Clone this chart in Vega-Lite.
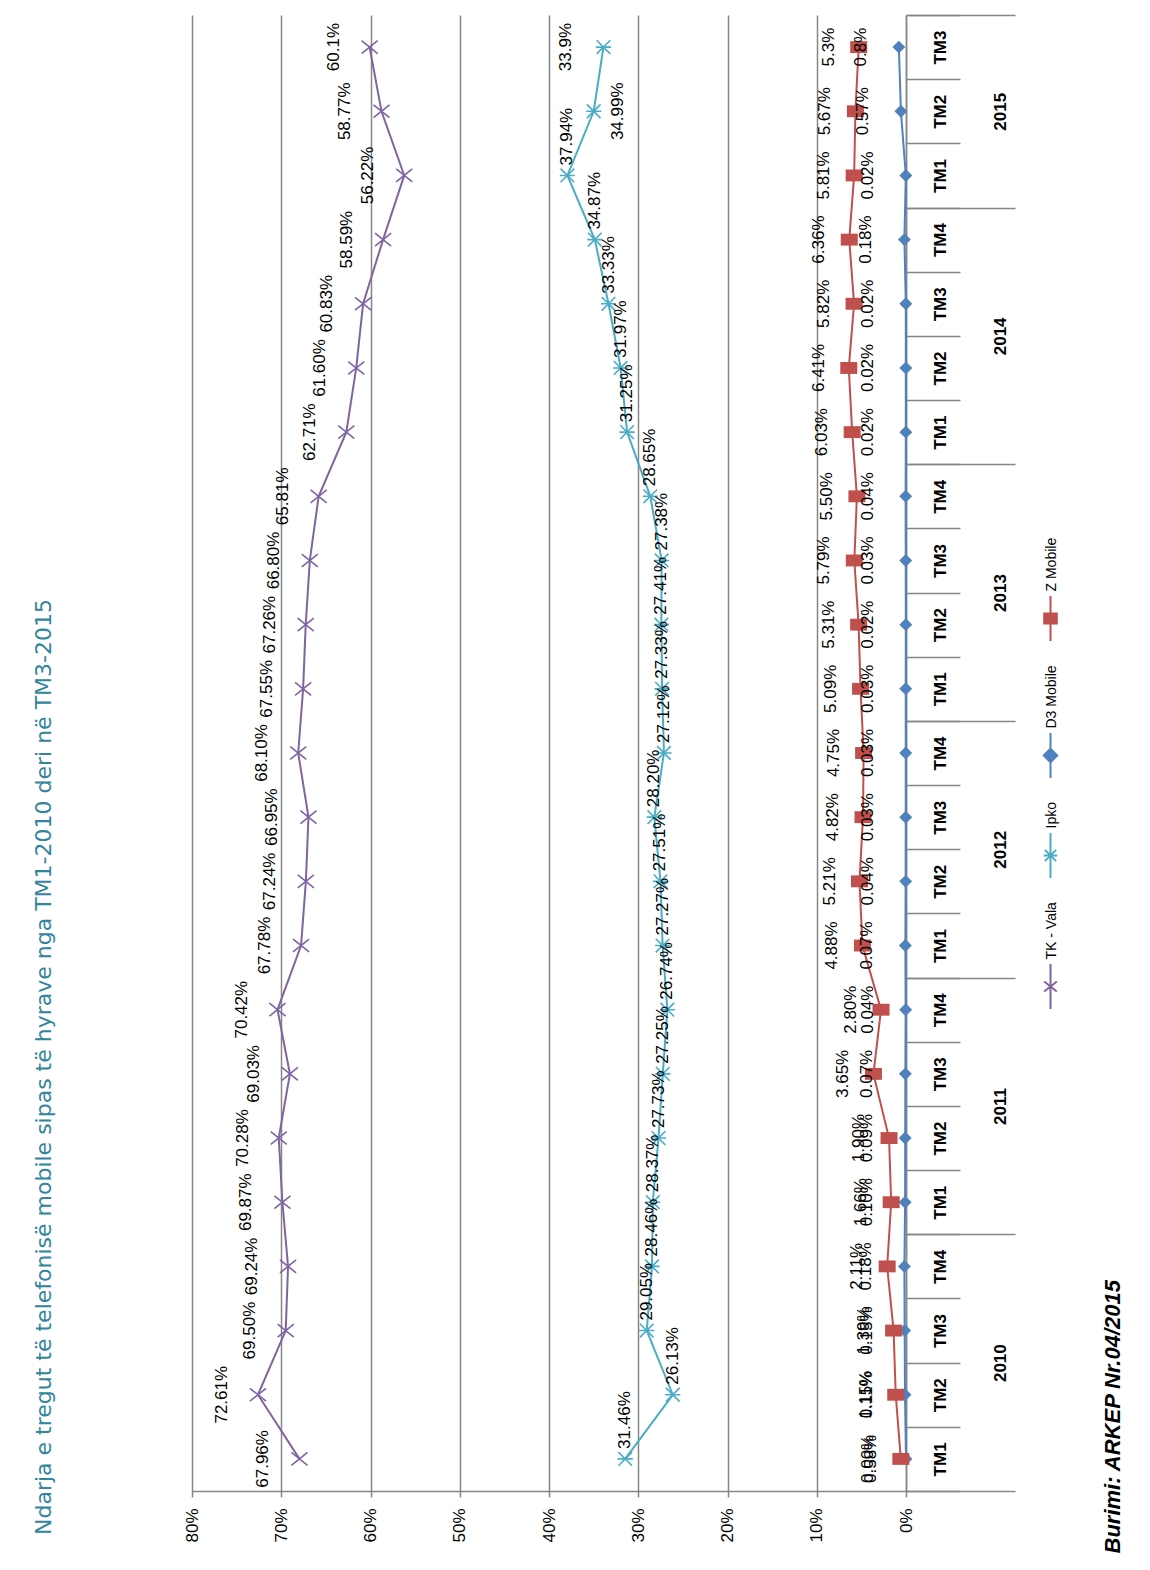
{
  "$schema": "https://vega.github.io/schema/vega-lite/v6.json",
  "width": 714,
  "height": 1476,
  "padding": {"left": 32, "top": 14, "right": 5, "bottom": 5},
  "background": "white",
  "config": {"view": {"stroke": null}, "font": "Liberation Sans"},
  "title": {
    "text": "Ndarja e tregut të telefonisë mobile sipas të hyrave nga TM1-2010 deri në TM3-2015",
    "orient": "left", "anchor": "start", "frame": "group", "dx": -44, "offset": 127,
    "font": "DejaVu Sans", "fontSize": 22, "fontWeight": "normal", "color": "#31859C"
  },
  "data": {"values": [
    {"s":"TK - Vala","y":2010,"q":"TM1","v":67.96,"t":"67.96%"},
    {"s":"TK - Vala","y":2010,"q":"TM2","v":72.61,"t":"72.61%"},
    {"s":"TK - Vala","y":2010,"q":"TM3","v":69.50,"t":"69.50%"},
    {"s":"TK - Vala","y":2010,"q":"TM4","v":69.24,"t":"69.24%"},
    {"s":"TK - Vala","y":2011,"q":"TM1","v":69.87,"t":"69.87%"},
    {"s":"TK - Vala","y":2011,"q":"TM2","v":70.28,"t":"70.28%"},
    {"s":"TK - Vala","y":2011,"q":"TM3","v":69.03,"t":"69.03%"},
    {"s":"TK - Vala","y":2011,"q":"TM4","v":70.42,"t":"70.42%"},
    {"s":"TK - Vala","y":2012,"q":"TM1","v":67.78,"t":"67.78%"},
    {"s":"TK - Vala","y":2012,"q":"TM2","v":67.24,"t":"67.24%"},
    {"s":"TK - Vala","y":2012,"q":"TM3","v":66.95,"t":"66.95%"},
    {"s":"TK - Vala","y":2012,"q":"TM4","v":68.10,"t":"68.10%"},
    {"s":"TK - Vala","y":2013,"q":"TM1","v":67.55,"t":"67.55%"},
    {"s":"TK - Vala","y":2013,"q":"TM2","v":67.26,"t":"67.26%"},
    {"s":"TK - Vala","y":2013,"q":"TM3","v":66.80,"t":"66.80%"},
    {"s":"TK - Vala","y":2013,"q":"TM4","v":65.81,"t":"65.81%"},
    {"s":"TK - Vala","y":2014,"q":"TM1","v":62.71,"t":"62.71%"},
    {"s":"TK - Vala","y":2014,"q":"TM2","v":61.60,"t":"61.60%"},
    {"s":"TK - Vala","y":2014,"q":"TM3","v":60.83,"t":"60.83%"},
    {"s":"TK - Vala","y":2014,"q":"TM4","v":58.59,"t":"58.59%"},
    {"s":"TK - Vala","y":2015,"q":"TM1","v":56.22,"t":"56.22%"},
    {"s":"TK - Vala","y":2015,"q":"TM2","v":58.77,"t":"58.77%"},
    {"s":"TK - Vala","y":2015,"q":"TM3","v":60.1,"t":"60.1%"},
    {"s":"Ipko","y":2010,"q":"TM1","v":31.46,"t":"31.46%"},
    {"s":"Ipko","y":2010,"q":"TM2","v":26.13,"t":"26.13%"},
    {"s":"Ipko","y":2010,"q":"TM3","v":29.05,"t":"29.05%"},
    {"s":"Ipko","y":2010,"q":"TM4","v":28.46,"t":"28.46%"},
    {"s":"Ipko","y":2011,"q":"TM1","v":28.37,"t":"28.37%"},
    {"s":"Ipko","y":2011,"q":"TM2","v":27.73,"t":"27.73%"},
    {"s":"Ipko","y":2011,"q":"TM3","v":27.25,"t":"27.25%"},
    {"s":"Ipko","y":2011,"q":"TM4","v":26.74,"t":"26.74%"},
    {"s":"Ipko","y":2012,"q":"TM1","v":27.27,"t":"27.27%"},
    {"s":"Ipko","y":2012,"q":"TM2","v":27.51,"t":"27.51%"},
    {"s":"Ipko","y":2012,"q":"TM3","v":28.20,"t":"28.20%"},
    {"s":"Ipko","y":2012,"q":"TM4","v":27.12,"t":"27.12%"},
    {"s":"Ipko","y":2013,"q":"TM1","v":27.33,"t":"27.33%"},
    {"s":"Ipko","y":2013,"q":"TM2","v":27.41,"t":"27.41%"},
    {"s":"Ipko","y":2013,"q":"TM3","v":27.38,"t":"27.38%"},
    {"s":"Ipko","y":2013,"q":"TM4","v":28.65,"t":"28.65%"},
    {"s":"Ipko","y":2014,"q":"TM1","v":31.25,"t":"31.25%"},
    {"s":"Ipko","y":2014,"q":"TM2","v":31.97,"t":"31.97%"},
    {"s":"Ipko","y":2014,"q":"TM3","v":33.33,"t":"33.33%"},
    {"s":"Ipko","y":2014,"q":"TM4","v":34.87,"t":"34.87%"},
    {"s":"Ipko","y":2015,"q":"TM1","v":37.94,"t":"37.94%"},
    {"s":"Ipko","y":2015,"q":"TM2","v":34.99,"t":"34.99%"},
    {"s":"Ipko","y":2015,"q":"TM3","v":33.9,"t":"33.9%"},
    {"s":"D3 Mobile","y":2010,"q":"TM1","v":0.00,"t":"0.00%"},
    {"s":"D3 Mobile","y":2010,"q":"TM2","v":0.11,"t":"0.11%"},
    {"s":"D3 Mobile","y":2010,"q":"TM3","v":0.15,"t":"0.15%"},
    {"s":"D3 Mobile","y":2010,"q":"TM4","v":0.18,"t":"0.18%"},
    {"s":"D3 Mobile","y":2011,"q":"TM1","v":0.10,"t":"0.10%"},
    {"s":"D3 Mobile","y":2011,"q":"TM2","v":0.09,"t":"0.09%"},
    {"s":"D3 Mobile","y":2011,"q":"TM3","v":0.07,"t":"0.07%"},
    {"s":"D3 Mobile","y":2011,"q":"TM4","v":0.04,"t":"0.04%"},
    {"s":"D3 Mobile","y":2012,"q":"TM1","v":0.07,"t":"0.07%"},
    {"s":"D3 Mobile","y":2012,"q":"TM2","v":0.04,"t":"0.04%"},
    {"s":"D3 Mobile","y":2012,"q":"TM3","v":0.03,"t":"0.03%"},
    {"s":"D3 Mobile","y":2012,"q":"TM4","v":0.03,"t":"0.03%"},
    {"s":"D3 Mobile","y":2013,"q":"TM1","v":0.03,"t":"0.03%"},
    {"s":"D3 Mobile","y":2013,"q":"TM2","v":0.02,"t":"0.02%"},
    {"s":"D3 Mobile","y":2013,"q":"TM3","v":0.03,"t":"0.03%"},
    {"s":"D3 Mobile","y":2013,"q":"TM4","v":0.04,"t":"0.04%"},
    {"s":"D3 Mobile","y":2014,"q":"TM1","v":0.02,"t":"0.02%"},
    {"s":"D3 Mobile","y":2014,"q":"TM2","v":0.02,"t":"0.02%"},
    {"s":"D3 Mobile","y":2014,"q":"TM3","v":0.02,"t":"0.02%"},
    {"s":"D3 Mobile","y":2014,"q":"TM4","v":0.18,"t":"0.18%"},
    {"s":"D3 Mobile","y":2015,"q":"TM1","v":0.02,"t":"0.02%"},
    {"s":"D3 Mobile","y":2015,"q":"TM2","v":0.57,"t":"0.57%"},
    {"s":"D3 Mobile","y":2015,"q":"TM3","v":0.8,"t":"0.8%"},
    {"s":"Z Mobile","y":2010,"q":"TM1","v":0.58,"t":"0.58%"},
    {"s":"Z Mobile","y":2010,"q":"TM2","v":1.15,"t":"1.15%"},
    {"s":"Z Mobile","y":2010,"q":"TM3","v":1.39,"t":"1.39%"},
    {"s":"Z Mobile","y":2010,"q":"TM4","v":2.11,"t":"2.11%"},
    {"s":"Z Mobile","y":2011,"q":"TM1","v":1.66,"t":"1.66%"},
    {"s":"Z Mobile","y":2011,"q":"TM2","v":1.90,"t":"1.90%"},
    {"s":"Z Mobile","y":2011,"q":"TM3","v":3.65,"t":"3.65%"},
    {"s":"Z Mobile","y":2011,"q":"TM4","v":2.80,"t":"2.80%"},
    {"s":"Z Mobile","y":2012,"q":"TM1","v":4.88,"t":"4.88%"},
    {"s":"Z Mobile","y":2012,"q":"TM2","v":5.21,"t":"5.21%"},
    {"s":"Z Mobile","y":2012,"q":"TM3","v":4.82,"t":"4.82%"},
    {"s":"Z Mobile","y":2012,"q":"TM4","v":4.75,"t":"4.75%"},
    {"s":"Z Mobile","y":2013,"q":"TM1","v":5.09,"t":"5.09%"},
    {"s":"Z Mobile","y":2013,"q":"TM2","v":5.31,"t":"5.31%"},
    {"s":"Z Mobile","y":2013,"q":"TM3","v":5.79,"t":"5.79%"},
    {"s":"Z Mobile","y":2013,"q":"TM4","v":5.50,"t":"5.50%"},
    {"s":"Z Mobile","y":2014,"q":"TM1","v":6.03,"t":"6.03%"},
    {"s":"Z Mobile","y":2014,"q":"TM2","v":6.41,"t":"6.41%"},
    {"s":"Z Mobile","y":2014,"q":"TM3","v":5.82,"t":"5.82%"},
    {"s":"Z Mobile","y":2014,"q":"TM4","v":6.36,"t":"6.36%"},
    {"s":"Z Mobile","y":2015,"q":"TM1","v":5.81,"t":"5.81%"},
    {"s":"Z Mobile","y":2015,"q":"TM2","v":5.67,"t":"5.67%"},
    {"s":"Z Mobile","y":2015,"q":"TM3","v":5.3,"t":"5.3%"}
  ]},
  "transform": [
    {"window": [{"op": "row_number", "as": "i"}], "groupby": ["s"], "sort": [{"field": "y"}, {"field": "q"}]}
  ],
  "encoding": {
    "x": {"field": "v", "type": "quantitative",
      "scale": {"domain": [0, 80], "reverse": true, "nice": false, "zero": true},
      "axis": {"orient": "bottom", "values": [0,10,20,30,40,50,60,70,80], "labelExpr": "datum.value + '%'",
        "labelAngle": 270, "labelAlign": "right", "labelBaseline": "middle", "labelFlush": false, "labelOverlap": false,
        "labelFontSize": 17, "labelColor": "#000", "labelPadding": 11, "tickSize": 6, "tickColor": "#868686", "tickWidth": 1.5,
        "domainColor": "#868686", "domainWidth": 1.5, "grid": true, "gridColor": "#868686", "gridWidth": 1.5, "title": null}}
  },
  "layer": [
    {
      "mark": {"type": "line", "strokeWidth": 2},
      "encoding": {
        "y": {"field": "i", "type": "quantitative",
          "scale": {"domain": [0.5, 23.5], "nice": false, "zero": false},
          "axis": {"orient": "right", "values": [1,2,3,4,5,6,7,8,9,10,11,12,13,14,15,16,17,18,19,20,21,22,23],
            "labelExpr": "['TM4','TM1','TM2','TM3'][datum.value % 4]",
            "labelAngle": 270, "labelAlign": "center", "labelBaseline": "middle", "labelPadding": 34, "labelOverlap": false, "labelFlush": false,
            "labelFontSize": 17, "labelFontWeight": "bold", "labelColor": "#000",
            "ticks": false, "domain": true, "domainColor": "#868686", "domainWidth": 1.5, "grid": false, "title": null}},
        "color": {"field": "s", "type": "nominal",
          "scale": {"domain": ["Z Mobile", "D3 Mobile", "Ipko", "TK - Vala"], "range": ["#C0504D", "#4F81BD", "#4BACC6", "#8064A2"]},
          "legend": {"orient": "none", "legendX": 835, "legendY": 580, "direction": "vertical", "title": null,
            "padding": 0, "symbolSize": 2025, "symbolStrokeWidth": 2, "labelOffset": -22, "rowPadding": 20,
            "labelFontSize": 14, "labelColor": "#000",
            "encoding": {
              "labels": {"angle": {"value": 270}, "align": {"value": "left"}, "baseline": {"value": "middle"}, "dx": {"value": 27}},
              "symbols": {
                "shape": {"value": {"expr": "datum.value === 'Z Mobile' ? 'M0,-1V1M-0.28,-0.22H0.28V0.22H-0.28Z' : datum.value === 'D3 Mobile' ? 'M0,-1V1M0,-0.3L0.3,0L0,0.3L-0.3,0Z' : datum.value === 'Ipko' ? 'M0,-1V1M-0.25,-0.25L0.25,0.25M-0.25,0.25L0.25,-0.25M-0.3,0H0.3' : 'M0,-1V1M-0.28,-0.22L0.28,0.22M-0.28,0.22L0.28,-0.22'"}},
                "fill": {"value": {"expr": "scale('color', datum.value)"}},
                "stroke": {"value": {"expr": "scale('color', datum.value)"}},
                "strokeWidth": {"value": 2}
              }
            }
          }},
        "order": {"field": "i"}
      }
    },
    {
      "transform": [{"filter": "datum.s === 'TK - Vala'"}],
      "mark": {"type": "point", "filled": false, "strokeWidth": 1.6, "size": 260, "opacity": 1, "color": "#8064A2",
        "shape": "M-1,-0.8L1,0.8M-1,0.8L1,-0.8"},
      "encoding": {
        "y": {"field": "i", "type": "quantitative",
          "axis": {"orient": "right", "values": [0.5,1.5,2.5,3.5,4.5,5.5,6.5,7.5,8.5,9.5,10.5,11.5,12.5,13.5,14.5,15.5,16.5,17.5,18.5,19.5,20.5,21.5,22.5,23.5],
            "labels": false, "domain": false, "ticks": true, "tickSize": 54, "tickColor": "#868686", "tickWidth": 1.5, "grid": false, "title": null}}
      }
    },
    {
      "transform": [{"filter": "datum.s === 'Ipko'"}],
      "mark": {"type": "point", "filled": false, "strokeWidth": 1.6, "size": 230, "opacity": 1, "color": "#4BACC6",
        "shape": "M-0.9,-0.9L0.9,0.9M-0.9,0.9L0.9,-0.9M-1,0L1,0"},
      "encoding": {
        "y": {"field": "i", "type": "quantitative",
          "axis": {"orient": "right", "values": [0.5, 4.5, 8.5, 12.5, 16.5, 20.5, 23.5],
            "labels": false, "domain": false, "ticks": true, "tickSize": 109, "tickColor": "#868686", "tickWidth": 1.5, "grid": false, "title": null}}
      }
    },
    {
      "transform": [{"filter": "datum.s === 'D3 Mobile'"}],
      "mark": {"type": "point", "filled": true, "size": 289, "opacity": 1, "color": "#4F81BD",
        "shape": "M0,-0.76L0.76,0L0,0.76L-0.76,0Z"},
      "encoding": {
        "y": {"field": "i", "type": "quantitative",
          "axis": {"orient": "right", "values": [2.5, 6.5, 10.5, 14.5, 18.5, 22],
            "labelExpr": "'' + (2010 + floor((datum.value - 1) / 4))",
            "labelAngle": 270, "labelAlign": "center", "labelBaseline": "middle", "labelPadding": 94, "labelOverlap": false, "labelFlush": false,
            "labelFontSize": 17, "labelFontWeight": "bold", "labelColor": "#000",
            "ticks": false, "domain": false, "grid": false,
            "title": "Burimi: ARKEP Nr.04/2015", "titleAngle": 270, "titleAlign": "left", "titleBaseline": "top",
            "titleX": 196, "titleY": 1538, "titleFontSize": 22, "titleFontWeight": "bold", "titleFontStyle": "italic", "titleColor": "#000"}}
      }
    },
    {
      "transform": [{"filter": "datum.s === 'Z Mobile'"}],
      "mark": {"type": "point", "filled": true, "size": 289, "opacity": 1, "color": "#C0504D",
        "shape": "M-1,-0.7H1V0.7H-1Z"},
      "encoding": {
        "y": {"field": "i", "type": "quantitative", "axis": null}
      }
    },
    {
      "transform": [{"filter": "datum.s === 'TK - Vala'"}],
      "mark": {"type": "text", "angle": 270, "align": "center", "baseline": "bottom", "dy": -27, "fontSize": 17, "color": "#000"},
      "encoding": {
        "y": {"field": "i", "type": "quantitative", "axis": null},
        "text": {"field": "t"}
      }
    },
    {
      "transform": [{"filter": "datum.s === 'Ipko' && datum.i <= 21"}],
      "mark": {"type": "text", "angle": 270, "align": "left", "baseline": "middle", "dx": 10, "fontSize": 17, "color": "#000"},
      "encoding": {
        "y": {"field": "i", "type": "quantitative", "axis": null},
        "text": {"field": "t"}
      }
    },
    {
      "transform": [{"filter": "datum.s === 'Ipko' && datum.i == 22"}],
      "mark": {"type": "text", "angle": 270, "align": "center", "baseline": "top", "dy": 16, "fontSize": 17, "color": "#000"},
      "encoding": {
        "y": {"field": "i", "type": "quantitative", "axis": null},
        "text": {"field": "t"}
      }
    },
    {
      "transform": [{"filter": "datum.s === 'Ipko' && datum.i == 23"}],
      "mark": {"type": "text", "angle": 270, "align": "center", "baseline": "bottom", "dy": -28, "fontSize": 17, "color": "#000"},
      "encoding": {
        "y": {"field": "i", "type": "quantitative", "axis": null},
        "text": {"field": "t"}
      }
    },
    {
      "transform": [{"filter": "datum.s === 'D3 Mobile'"}],
      "mark": {"type": "text", "angle": 270, "align": "center", "baseline": "bottom", "dy": -29, "fontSize": 17, "color": "#000"},
      "encoding": {
        "y": {"field": "i", "type": "quantitative", "axis": null},
        "text": {"field": "t"}
      }
    },
    {
      "transform": [{"filter": "datum.s === 'Z Mobile'"}],
      "mark": {"type": "text", "angle": 270, "align": "center", "baseline": "bottom", "dy": -21, "fontSize": 17, "color": "#000"},
      "encoding": {
        "y": {"field": "i", "type": "quantitative", "axis": null},
        "text": {"field": "t"}
      }
    }
  ],
  "resolve": {"axis": {"y": "independent"}}
}
